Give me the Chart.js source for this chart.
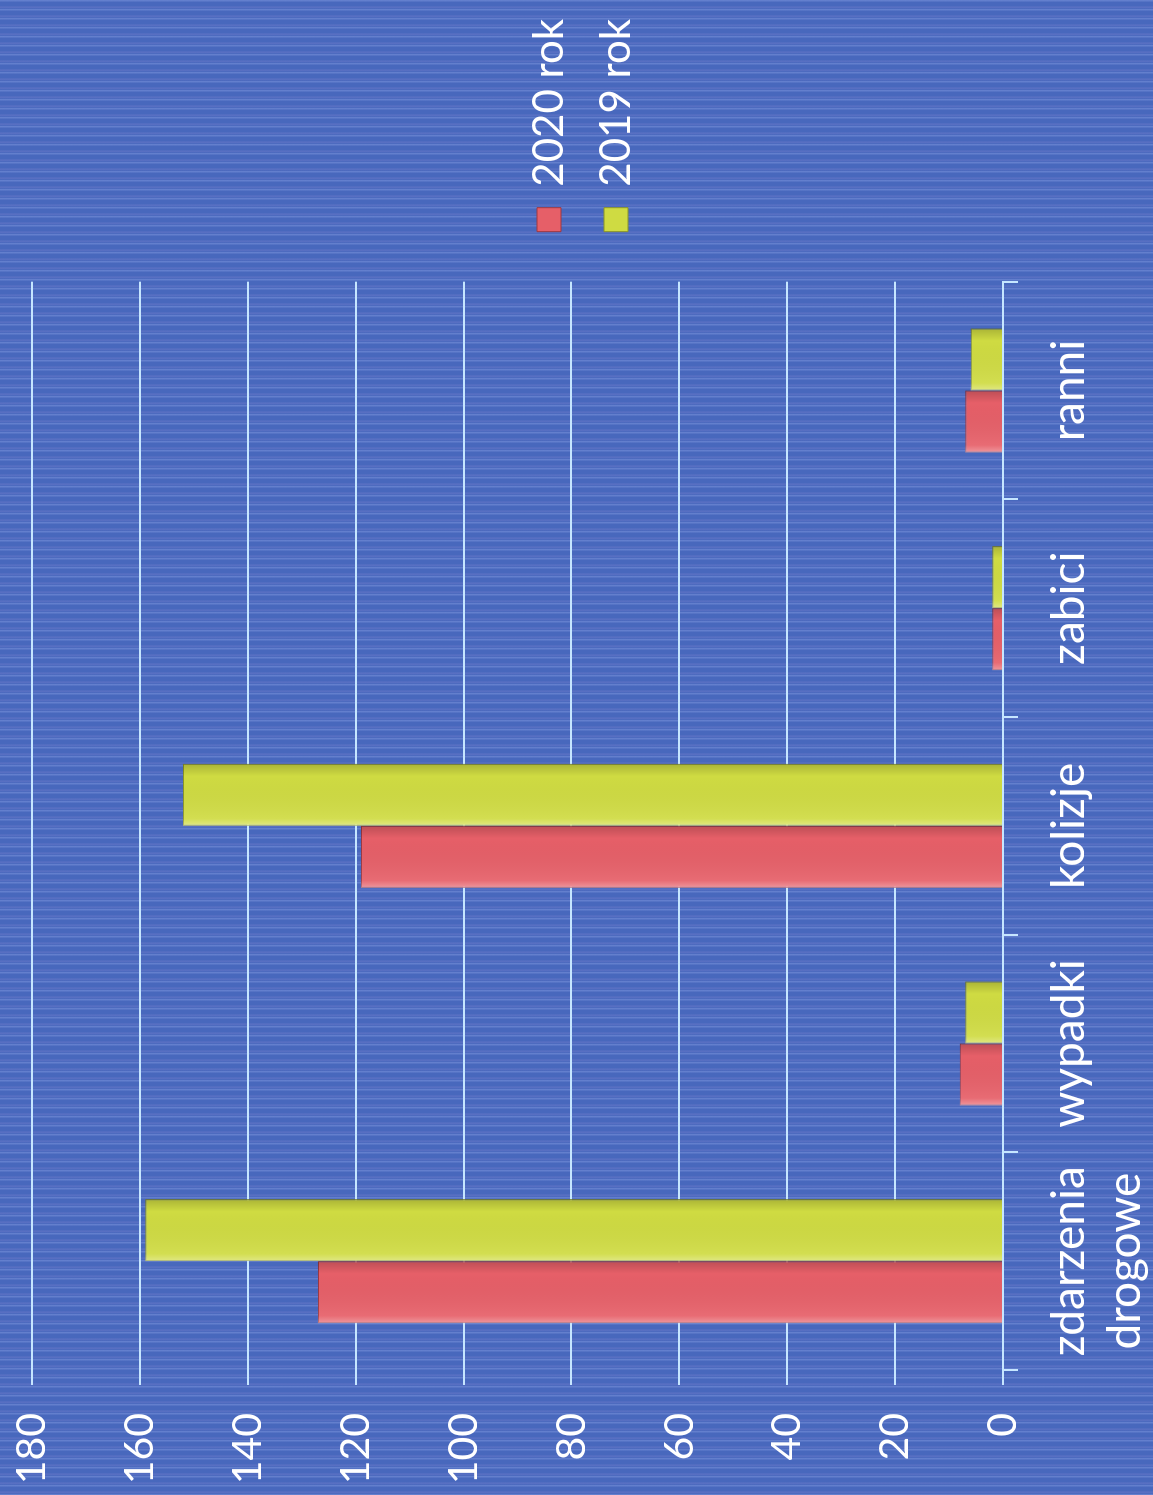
<!DOCTYPE html>
<html>
<head>
<meta charset="utf-8">
<script src="https://cdn.jsdelivr.net/npm/chart.js@4/dist/chart.umd.min.js"></script>
<style>
  html, body { margin: 0; padding: 0; overflow: hidden; }
  body {
    width: 1153px; height: 1495px;
    background-color: #4868bd;
    background-image: repeating-linear-gradient(180deg, rgba(150,170,235,0.35) 0px, rgba(150,170,235,0.35) 1px, rgba(0,0,0,0) 2px, rgba(0,0,0,0) 6px, rgba(190,160,230,0.18) 7px, rgba(0,0,0,0) 9px);
  }
  #wrap {
    position: absolute; left: 0; top: 0;
    width: 1495px; height: 1153px;
    transform-origin: 0 0;
    transform: translateY(1495px) rotate(-90deg);
  }
</style>
</head>
<body>
<div id="wrap"><canvas id="myChart"></canvas></div>
<script>
var categories = [['zdarzenia', 'drogowe'], 'wypadki', 'kolizje', 'zabici', 'ranni'];
var rok2020 = [127, 8, 119, 2, 7];
var rok2019 = [159, 7, 152, 2, 6];
var yTicks = [0, 20, 40, 60, 80, 100, 120, 140, 160, 180];

var txt = '#ffffff';
var gridCol = '#c6e6ff';

// soft bevel over each bar, using the bar geometry chart.js computed
const bevel = {
    id: 'bevel',
    afterDatasetsDraw(chart) {
        const ctx = chart.ctx;
        chart.data.datasets.forEach((ds, i) => {
            chart.getDatasetMeta(i).data.forEach(bar => {
                const l = bar.x - bar.width / 2, r = bar.x + bar.width / 2;
                const top = Math.min(bar.y, bar.base), h = Math.abs(bar.base - bar.y);
                const g = ctx.createLinearGradient(l, 0, r, 0);
                g.addColorStop(0, 'rgba(255,255,255,0.35)');
                g.addColorStop(0.12, 'rgba(255,255,255,0.08)');
                g.addColorStop(0.8, 'rgba(0,0,0,0)');
                g.addColorStop(1, 'rgba(0,0,0,0.18)');
                ctx.save();
                ctx.fillStyle = g;
                ctx.fillRect(l, top, r - l, h);
                ctx.restore();
            });
        });
    }
};

const data = {
    labels: categories,
    datasets: [{
        label: '2020 rok',
        backgroundColor: '#e65f68',
        borderColor: '#9c3842',
        borderWidth: 1,
        data: rok2020,
    }, {
        label: '2019 rok',
        backgroundColor: '#cfdb42',
        borderColor: '#8a9428',
        borderWidth: 1,
        data: rok2019,
    }]
};

const config = {
    type: 'bar',
    data: data,
    plugins: [bevel],
    options: {
        responsive: true,
        maintainAspectRatio: false,
        animation: false,
        layout: { padding: { left: 0, top: 12, right: 9, bottom: 0 } },
        datasets: { bar: { categoryPercentage: 0.57, barPercentage: 1 } },
        plugins: {
            legend: {
                position: 'right',
                labels: {
                    color: txt, font: { family: 'Lato', size: 42 },
                    boxWidth: 24, boxHeight: 24,
                    padding: 25
                }
            },
            tooltip: { enabled: false }
        },
        scales: {
            x: {
                grid: { drawOnChartArea: false, drawTicks: true, tickLength: 15, color: gridCol, lineWidth: 2 },
                border: { display: true, color: gridCol, width: 2 },
                ticks: { color: txt, font: { family: 'Lato', size: 46, lineHeight: 1.2 }, padding: 24, maxRotation: 0 },
                afterFit: function (axis) { axis.height = 150; }
            },
            y: {
                min: 0, max: 180,
                afterBuildTicks: function (axis) { axis.ticks = yTicks.map(function (v) { return { value: v }; }); },
                grid: { color: gridCol, lineWidth: 2, tickLength: 15 },
                border: { display: false },
                ticks: { color: txt, font: { family: 'Lato', size: 41 }, padding: 28 },
                afterFit: function (axis) { axis.width = 125; axis.paddingTop = 32; axis.paddingBottom = 0; }
            },
            // empty spacer between plot and legend
            gap: {
                axis: 'y', position: 'right', display: true,
                grid: { display: false }, border: { display: false },
                ticks: { display: false },
                afterFit: function (axis) { axis.width = 25; }
            }
        }
    }
};

const myChart = new Chart(document.getElementById('myChart'), config);
</script>
</body>
</html>
